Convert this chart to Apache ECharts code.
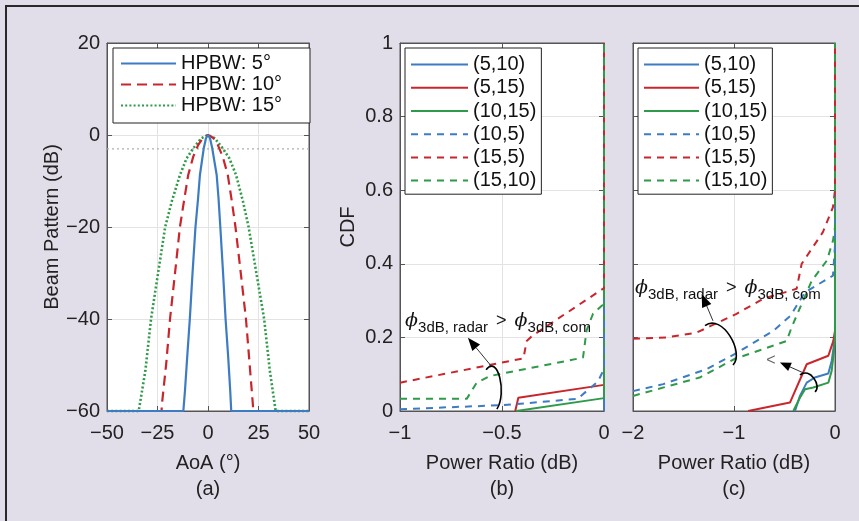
<!DOCTYPE html>
<html>
<head>
<meta charset="utf-8">
<script src="https://cdn.jsdelivr.net/npm/echarts@6/dist/echarts.min.js"></script>
<style>
html,body{margin:0;padding:0;background:#E2DEE9;}
#c{width:859px;height:521px;}
</style>
</head>
<body>
<div id="c"></div>
<script>
// ---------- Panel (a): beam patterns ----------
const hpbwNames = ['HPBW: 5°', 'HPBW: 10°', 'HPBW: 15°'];
const aoaBlue = [-50, -12.2, -11.4, -10.3, -9.0, -7.7, -6.2, -4.9, -4.0, -2.1, -1.0, 0, 1.0, 2.1, 4.3, 5.2, 6.1, 7.5, 8.7, 10.0, 11.0, 11.5, 50];
const dbBlue  = [-60, -60, -55.6, -48.3, -40, -30.3, -20, -13.7, -8.7, -2.9, -0.7, 0, -0.7, -2.9, -8.7, -13.7, -20, -30.3, -40, -48.3, -55.6, -60, -60];
const aoaRed  = [-50, -23.0, -22.8, -20.7, -18.8, -16.3, -13.9, -11.9, -9.8, -7.3, -4.9, -2.5, 0, 2.5, 4.9, 7.3, 9.8, 11.8, 13.6, 16.2, 18.8, 20.6, 22.2, 22.4, 50];
const dbRed   = [-60, -60, -58.5, -49.8, -40, -29.9, -20, -14.4, -8.7, -4.7, -2.2, -0.6, 0, -0.6, -2.2, -4.7, -8.7, -14.4, -20, -29.9, -40, -49.8, -58.5, -60, -60];
const aoaGreen = [-50, -34.3, -31.0, -28.2, -25.3, -21.2, -17.9, -13.9, -10.6, -7.3, -3.3, 0, 3.3, 7.3, 10.6, 13.9, 17.3, 20.1, 24.6, 27.8, 30.6, 33.5, 50];
const dbGreen  = [-60, -60, -51.2, -40, -31.7, -20, -14.4, -8.7, -5.1, -2.9, -0.7, 0, -0.7, -2.9, -5.1, -8.7, -14.4, -20, -31.7, -40, -51.2, -60, -60];
const halfPowerDb = -3;

// ---------- Panel (b): CDF of power ratio ----------
const pairNames = ['(5,10)', '(5,15)', '(10,15)', '(10,5)', '(15,5)', '(15,10)'];
const b_5_10_x  = [0, 0];                  const b_5_10_y  = [0, 1];
const b_5_15_x  = [-0.435, -0.42, 0, 0];   const b_5_15_y  = [0, 0.036, 0.071, 1];
const b_10_15_x = [-0.43, 0, 0];           const b_10_15_y = [0, 0.035, 1];
const b_10_5_x  = [-1, -0.49, -0.13, -0.03, 0, 0];
const b_10_5_y  = [0.005, 0.016, 0.033, 0.08, 0.114, 1];
const b_15_5_x  = [-1, -0.395, -0.379, -0.35, 0, 0];
const b_15_5_y  = [0.077, 0.143, 0.19, 0.205, 0.334, 1];
const b_15_10_x = [-1, -0.673, -0.624, -0.559, -0.103, -0.085, -0.054, -0.011, 0, 0];
const b_15_10_y = [0.033, 0.033, 0.077, 0.095, 0.145, 0.22, 0.264, 0.286, 0.29, 1];

// ---------- Panel (c): CDF of power ratio ----------
const c_5_10_x  = [-0.396, -0.347, -0.28, -0.2, -0.066, -0.033, -0.01, 0, 0];
const c_5_10_y  = [0, 0.041, 0.077, 0.091, 0.102, 0.136, 0.18, 0.2, 1];
const c_5_15_x  = [-0.86, -0.446, -0.28, -0.066, -0.017, 0, 0];
const c_5_15_y  = [0, 0.023, 0.127, 0.15, 0.19, 0.218, 1];
const c_10_15_x = [-0.413, -0.347, -0.297, -0.215, -0.066, -0.033, -0.01, 0, 0];
const c_10_15_y = [0, 0.036, 0.059, 0.064, 0.077, 0.109, 0.163, 0.2, 1];
const c_10_5_x  = [-2, -1.7, -1.27, -0.99, -0.61, -0.44, -0.3, -0.02, 0, 0];
const c_10_5_y  = [0.054, 0.073, 0.114, 0.155, 0.218, 0.259, 0.322, 0.368, 0.45, 1];
const c_15_5_x  = [-2, -1.67, -1.37, -0.975, -0.71, -0.38, -0.33, -0.12, -0.02, 0, 0];
const c_15_5_y  = [0.196, 0.2, 0.213, 0.264, 0.305, 0.332, 0.40, 0.486, 0.554, 0.6, 1];
const c_15_10_x = [-2, -1.34, -0.99, -0.48, -0.43, -0.33, -0.23, -0.08, -0.02, 0, 0];
const c_15_10_y = [0.041, 0.091, 0.142, 0.19, 0.227, 0.291, 0.354, 0.409, 0.463, 0.5, 1];

// ---------- tick / label texts ----------
const xNames = ['AoA (°)\n(a)', 'Power Ratio (dB)\n(b)', 'Power Ratio (dB)\n(c)'];
const yNames = ['Beam Pattern (dB)', 'CDF', ''];
const annoLabel = '{p|ϕ}{s|3dB, radar}{g| > }{p|ϕ}{s|3dB, com}';
const smallLabel = '<';

// ---------- styling ----------
const FONT = '"Liberation Sans", Arial, Helvetica, sans-serif';
const BLUE = '#3D7CC2', RED = '#C8262C', GREEN = '#2F9A49';
const AX = '#555';

const zip = (xs, ys) => xs.map((x, i) => [x, ys[i]]);
const minusFmt = v => String(Math.round(v * 1000) / 1000).replace('-', '\u2212');

const grids = [
  {left: 107, top: 43, width: 202, height: 368},
  {left: 400, top: 43, width: 204, height: 368},
  {left: 633, top: 43, width: 202, height: 368}
].map(g => Object.assign(g, {show: true, backgroundColor: '#fff', borderColor: AX, borderWidth: 1}));

const xRanges = [[-50, 50, 25], [-1, 0, 0.5], [-2, 0, 1]];
const yRanges = [[-60, 20, 20], [0, 1, 0.2], [0, 1, 0.2]];
const yNameGaps = [45, 42, 42];

const xAxes = [], yAxes = [];
for (let i = 0; i < 3; i++) {
  xAxes.push({
    type: 'value', gridIndex: i, position: 'bottom',
    min: xRanges[i][0], max: xRanges[i][1], interval: xRanges[i][2],
    name: xNames[i], nameLocation: 'middle', nameGap: 39,
    nameTextStyle: {fontSize: 20, lineHeight: 26, color: '#222', fontFamily: FONT},
    axisLine: {show: true, onZero: false, lineStyle: {color: AX, width: 1}},
    axisTick: {show: true, inside: true, length: 5, lineStyle: {color: AX}},
    axisLabel: {fontSize: 20, color: '#222', margin: 12, fontFamily: FONT, formatter: minusFmt},
    splitLine: {show: true, lineStyle: {color: '#e3e3e3', width: 1}}
  });
  yAxes.push({
    type: 'value', gridIndex: i, position: 'left',
    min: yRanges[i][0], max: yRanges[i][1], interval: yRanges[i][2],
    name: yNames[i], nameLocation: 'middle', nameGap: yNameGaps[i],
    nameTextStyle: {fontSize: 20, color: '#222', fontFamily: FONT},
    axisLine: {show: true, onZero: false, lineStyle: {color: AX, width: 1}},
    axisTick: {show: true, inside: true, length: 5, lineStyle: {color: AX}},
    axisLabel: {show: i < 2, fontSize: 20, color: '#222', margin: 7, fontFamily: FONT, formatter: minusFmt},
    splitLine: {show: true, lineStyle: {color: '#e3e3e3', width: 1}}
  });
}
for (let i = 0; i < 3; i++) {
  xAxes.push({
    type: 'value', gridIndex: i, position: 'top',
    min: xRanges[i][0], max: xRanges[i][1], interval: xRanges[i][2],
    axisLine: {show: true, onZero: false, lineStyle: {color: AX, width: 1}},
    axisTick: {show: true, inside: true, length: 5, lineStyle: {color: AX}},
    axisLabel: {show: false}, splitLine: {show: false}
  });
  yAxes.push({
    type: 'value', gridIndex: i, position: 'right',
    min: yRanges[i][0], max: yRanges[i][1], interval: yRanges[i][2],
    axisLine: {show: true, onZero: false, lineStyle: {color: AX, width: 1}},
    axisTick: {show: true, inside: true, length: 5, lineStyle: {color: AX}},
    axisLabel: {show: false}, splitLine: {show: false}
  });
}

function line(name, gi, data, color, type, width, z) {
  return {
    name, type: 'line', xAxisIndex: gi, yAxisIndex: gi, data,
    symbol: 'none', clip: false, z: z || 2, animation: false,
    lineStyle: {color, type, width: width || 2},
    itemStyle: {color}
  };
}
const DASH_A = [10, 6], DASH_B = [7, 6], DOT = [2, 2.2];

const series = [
  line('_hp', 0, [[xRanges[0][0], halfPowerDb], [xRanges[0][1], halfPowerDb]], '#b0b0b0', [2, 3], 1.2, 1),
  line(hpbwNames[2], 0, zip(aoaGreen, dbGreen), GREEN, DOT, 2.6),
  line(hpbwNames[1], 0, zip(aoaRed, dbRed), RED, DASH_A, 2.2),
  line(hpbwNames[0], 0, zip(aoaBlue, dbBlue), BLUE, 'solid', 2.2),

  line(pairNames[0], 1, zip(b_5_10_x, b_5_10_y), BLUE, 'solid'),
  line(pairNames[1], 1, zip(b_5_15_x, b_5_15_y), RED, 'solid'),
  line(pairNames[2], 1, zip(b_10_15_x, b_10_15_y), GREEN, 'solid'),
  line(pairNames[3], 1, zip(b_10_5_x, b_10_5_y), BLUE, DASH_B),
  line(pairNames[4], 1, zip(b_15_5_x, b_15_5_y), RED, DASH_B),
  line(pairNames[5], 1, zip(b_15_10_x, b_15_10_y), GREEN, DASH_B),

  line(pairNames[0], 2, zip(c_5_10_x, c_5_10_y), BLUE, 'solid'),
  line(pairNames[1], 2, zip(c_5_15_x, c_5_15_y), RED, 'solid'),
  line(pairNames[2], 2, zip(c_10_15_x, c_10_15_y), GREEN, 'solid'),
  line(pairNames[3], 2, zip(c_10_5_x, c_10_5_y), BLUE, DASH_B),
  line(pairNames[4], 2, zip(c_15_5_x, c_15_5_y), RED, DASH_B),
  line(pairNames[5], 2, zip(c_15_10_x, c_15_10_y), GREEN, DASH_B)
];

const legendBase = {
  orient: 'vertical', selectedMode: false, backgroundColor: '#fff',
  borderColor: '#222', borderWidth: 1, borderRadius: 0, itemGap: 0, itemHeight: 14,
  itemStyle: {opacity: 0, borderWidth: 0},
  textStyle: {fontSize: 20, color: '#111', fontFamily: FONT}
};
const legends = [
  Object.assign({}, legendBase, {data: hpbwNames, left: 113, top: 48, itemWidth: 55,
    padding: [5, 28, 7, 7], textStyle: Object.assign({}, legendBase.textStyle, {lineHeight: 21})}),
  Object.assign({}, legendBase, {data: pairNames, left: 405, top: 48, itemWidth: 57,
    padding: [5, 5, 2, 5], textStyle: Object.assign({}, legendBase.textStyle, {lineHeight: 23.2})}),
  Object.assign({}, legendBase, {data: pairNames, left: 638, top: 48, itemWidth: 55,
    padding: [5, 5, 2, 5], textStyle: Object.assign({}, legendBase.textStyle, {lineHeight: 23.2})})
];

const chart = echarts.init(document.getElementById('c'), null, {renderer: 'canvas'});
chart.setOption({
  backgroundColor: '#E2DEE9',
  animation: false,
  grid: grids, xAxis: xAxes, yAxis: yAxes, legend: legends, series
});

// ---------- annotations (positioned in data space) ----------
const annoB = {text: [-0.975, 0.237], tip: [-0.667, 0.199], tail: [-0.554, 0.123],
  curl: [[-0.578, 0.112], [-0.520, 0.155], [-0.475, 0.049], [-0.525, 0.005]]};
const annoC = {text: [-1.98, 0.327], tip: [-1.320, 0.318], tail: [-1.208, 0.245],
  curl: [[-1.287, 0.232], [-1.119, 0.267], [-0.891, 0.158], [-1.010, 0.125]]};
const annoC2 = {text: [-0.634, 0.136], tip: [-0.545, 0.132], tail: [-0.317, 0.104],
  curl: [[-0.347, 0.098], [-0.248, 0.120], [-0.129, 0.068], [-0.198, 0.052]]};

const rich = {
  p: {fontFamily: '"DejaVu Serif", "Liberation Serif", serif', fontStyle: 'italic', fontSize: 19, lineHeight: 24, verticalAlign: 'top', fill: '#111'},
  s: {fontFamily: FONT, fontSize: 15, lineHeight: 17, verticalAlign: 'bottom', fill: '#111'},
  g: {fontFamily: FONT, fontSize: 18, lineHeight: 22, verticalAlign: 'top', fill: '#111', padding: [0, 3, 0, 3]}
};

function px(gi, p) { return chart.convertToPixel({gridIndex: gi}, p); }
function arrow(gi, a, headLen, headW) {
  const tip = px(gi, a.tip), tail = px(gi, a.tail);
  const c = a.curl.map(p => px(gi, p));
  const dx = tip[0] - tail[0], dy = tip[1] - tail[1];
  const L = Math.hypot(dx, dy), ux = dx / L, uy = dy / L;
  const bx = tip[0] - ux * headLen, by = tip[1] - uy * headLen;
  const nx = -uy * headW / 2, ny = ux * headW / 2;
  return [
    {type: 'line', shape: {x1: tail[0], y1: tail[1], x2: bx, y2: by}, style: {stroke: '#333', lineWidth: 1}, z: 100},
    {type: 'polygon', shape: {points: [[tip[0], tip[1]], [bx + nx, by + ny], [bx - nx, by - ny]]}, style: {fill: '#000'}, z: 100},
    {type: 'bezierCurve', shape: {x1: c[0][0], y1: c[0][1], cpx1: c[1][0], cpy1: c[1][1], cpx2: c[2][0], cpy2: c[2][1], x2: c[3][0], y2: c[3][1]},
      style: {stroke: '#000', lineWidth: 1.6, fill: null}, z: 100}
  ];
}
function label(gi, a) {
  const p = px(gi, a.text);
  return {type: 'text', x: p[0], y: p[1], z: 100,
    style: {text: annoLabel, rich, align: 'left', verticalAlign: 'middle', fill: '#111'}};
}
const p2 = px(2, annoC2.text);
const graphics = [
  {type: 'rect', shape: {x: 5, y: 5, width: 854, height: 2}, style: {fill: '#2a2a2a'}, z: 100},
  {type: 'rect', shape: {x: 5, y: 5, width: 2, height: 516}, style: {fill: '#2a2a2a'}, z: 100},
  label(1, annoB), label(2, annoC),
  {type: 'text', x: p2[0], y: p2[1], z: 100, style: {text: smallLabel, fontSize: 16, fontFamily: FONT, fill: '#666', align: 'center', verticalAlign: 'middle'}}
].concat(arrow(1, annoB, 13, 10), arrow(2, annoC, 13, 10), arrow(2, annoC2, 11, 9));
chart.setOption({graphic: graphics});
</script>
</body>
</html>
